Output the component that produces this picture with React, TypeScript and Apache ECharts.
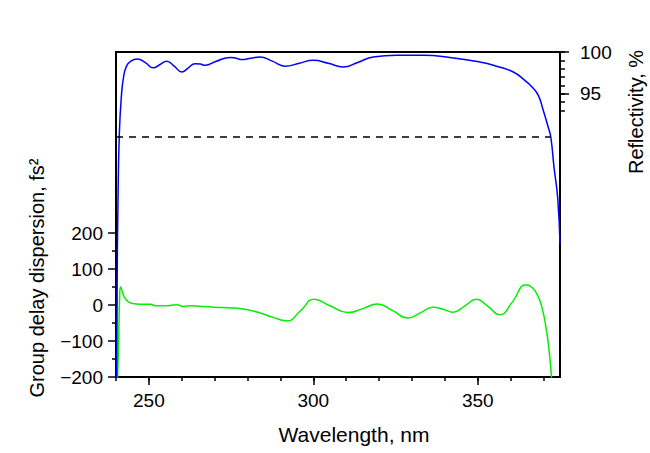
import React, { useEffect, useRef } from "react";
import * as echarts from "echarts";

// Reflectivity (%) vs wavelength (nm)
const reflWavelength = [
  240.0, 240.35, 240.6, 241.0, 241.6, 242.3, 243.2, 244.5, 246.5, 249.0, 251.3, 253.4,
  255.4, 257.7, 260.0, 262.0, 264.0, 265.6, 267.1, 270.5, 274.7, 276.5, 278.2, 281.0, 283.8, 287.5, 291.4, 295.7,
  300.0, 304.5, 309.1, 313.5, 318.2, 325.3, 333.4, 341.5, 350.6, 355.7, 360.8, 364.3, 366.5, 368.4,
  369.9, 371.4, 372.2, 373.2, 374.3, 375.0,
];
const reflValues = [
  40, 72, 82, 90, 94.5, 97.0, 98.3, 98.9, 99.15, 98.7, 98.1, 98.5,
  98.9, 98.3, 97.6, 98.1, 98.6, 98.55, 98.4, 98.9, 99.35, 99.25, 99.1, 99.25, 99.4, 98.9, 98.3, 98.65,
  99.0, 98.65, 98.2, 98.75, 99.4, 99.6, 99.6, 99.35, 98.8, 98.3, 97.6, 96.6, 95.8, 94.8,
  93.0, 91.0, 89.8, 86.1, 82.5, 77.0,
];

// Group delay dispersion (fs^2) vs wavelength (nm)
const gddWavelength = [
  240.3, 240.8, 241.1, 241.4, 242.0, 242.7, 243.7, 245.0, 247.5, 250.5, 252.0, 255.0, 258.5,
  260.5, 263.0, 266.0, 270.0, 275.6, 280.0, 283.8, 288.0, 292.0, 296.1, 300.2,
  305.0, 310.5, 315.0, 319.5, 324.0, 328.8, 332.5, 336.4, 339.5, 342.5, 346.0, 349.6,
  353.0, 356.7, 360.5, 364.6, 366.6, 368.3, 369.6, 370.7, 371.6, 372.4, 372.8,
];
const gddValues = [
  -260, -100, 20, 50, 35, 19, 9, 4, 2, 2, -2, -2, 1,
  -4, -2, -4, -6, -8, -13, -22, -35, -44, -16, 16,
  -2, -21, -10, 3, -15, -36, -22, -6, -12, -20, -3, 16,
  -3, -27, 8, 56, 48, 25, -10, -60, -120, -198, -250,
];

const thresholdRefl = 89.8;
const thresholdEnd = 372.2;
const xMajorTicks = [250, 300, 350];
const rightLabels = [95, 100];

const FONT = "'Liberation Sans', Arial, sans-serif";

export default function App() {
  const ref = useRef<HTMLDivElement>(null);
  useEffect(() => {
    document.body.style.margin = "0";
    if (!ref.current) return;
    const chart = echarts.init(ref.current, undefined, { renderer: "svg" });
    const W = 650;
    const L = 116, R = 90, T = 52, B = 76;
    const plotW = W - L - R;
    const xMin = 240, xMax = 375;
    const pxPerNm = plotW / (xMax - xMin);
    const rMin = 61, rMax = 100;
    const pxPerPct = (453 - T - B) / (rMax - rMin);
    const black = "#000";
    const hiddenAxisBase = {
      axisLine: { show: false, onZero: false },
      axisLabel: { show: false },
      axisTick: { show: false },
      splitLine: { show: false },
    };
    const frameLine = { show: true, onZero: false, lineStyle: { color: black, width: 2 } };
    const option: any = {
      animation: false,
      grid: [
        { left: L, right: R, top: T, bottom: B },
        { left: L, right: R, top: 453 - B - 144, bottom: B },
        { left: L, right: R, top: T, height: 7 * pxPerPct },
        { left: L, right: R, top: T, height: 5 * pxPerPct },
        { left: L + (250 - xMin) * pxPerNm, right: R + (xMax - 350) * pxPerNm, top: T, bottom: B },
        { left: L, right: R + (xMax - 370) * pxPerNm, top: T, bottom: B },
      ],
      xAxis: [
        {
          gridIndex: 0, type: "value", min: xMin, max: xMax, interval: 10, position: "bottom",
          axisLine: frameLine,
          axisTick: { show: false },
          splitLine: { show: false },
          axisLabel: {
            margin: 14, color: black, fontSize: 19, fontFamily: FONT,
            formatter: (v: number) => (xMajorTicks.includes(v) ? String(v) : ""),
            showMinLabel: false, showMaxLabel: false,
          },
        },
        {
          gridIndex: 0, type: "value", min: xMin, max: xMax, position: "top",
          ...hiddenAxisBase,
          axisLine: frameLine,
        },
        { gridIndex: 1, type: "value", min: xMin, max: xMax, show: false },
        { gridIndex: 2, type: "value", min: xMin, max: xMax, show: false },
        { gridIndex: 3, type: "value", min: xMin, max: xMax, show: false },
        {
          gridIndex: 4, type: "value", min: 250, max: 350, interval: 50, position: "bottom",
          ...hiddenAxisBase,
          axisTick: { show: true, length: 8, lineStyle: { color: black, width: 1.5 } },
        },
        {
          gridIndex: 5, type: "value", min: 240, max: 370, interval: 10, position: "bottom",
          ...hiddenAxisBase,
          axisTick: { show: true, length: 4, lineStyle: { color: black, width: 1.5 } },
        },
      ],
      yAxis: [
        {
          gridIndex: 0, type: "value", min: -200, max: 700, position: "left",
          ...hiddenAxisBase,
          axisLine: frameLine,
        },
        {
          gridIndex: 0, type: "value", min: rMin, max: rMax, position: "right",
          ...hiddenAxisBase,
          axisLine: frameLine,
        },
        {
          gridIndex: 1, type: "value", min: -200, max: 200, interval: 100, position: "left",
          axisLine: { show: false, onZero: false },
          splitLine: { show: false },
          axisTick: { show: true, length: 8, lineStyle: { color: black, width: 1.5 } },
          minorTick: { show: true, splitNumber: 2, length: 4, lineStyle: { color: black, width: 1.5 } },
          axisLabel: {
            margin: 13, color: black, fontSize: 19, fontFamily: FONT,
            formatter: (v: number) => (v < 0 ? "\u2212" + Math.abs(v) : String(v)),
          },
        },
        {
          gridIndex: 2, type: "value", min: 93, max: 100, interval: 1, position: "right",
          axisLine: { show: false, onZero: false },
          splitLine: { show: false },
          axisTick: { show: true, length: 5, lineStyle: { color: black, width: 1.5 } },
          axisLabel: {
            margin: 20, color: black, fontSize: 19, fontFamily: FONT,
            formatter: (v: number) => (rightLabels.includes(v) ? String(v) : ""),
          },
        },
        {
          gridIndex: 3, type: "value", min: 95, max: 100, interval: 5, position: "right",
          ...hiddenAxisBase,
          axisTick: { show: true, length: 9, lineStyle: { color: black, width: 1.5 } },
        },
        { gridIndex: 4, type: "value", min: 0, max: 1, show: false },
        { gridIndex: 5, type: "value", min: 0, max: 1, show: false },
      ],
      series: [
        {
          type: "line",
          xAxisIndex: 2, yAxisIndex: 2,
          data: gddWavelength.map((x, i) => [x, gddValues[i]]),
          showSymbol: false, smooth: 0.5,
          lineStyle: { color: "#00f000", width: 1.5 },
          clip: true, z: 3,
        },
        {
          type: "line",
          xAxisIndex: 0, yAxisIndex: 1,
          data: reflWavelength.map((x, i) => [x, reflValues[i]]),
          showSymbol: false, smooth: 0.5,
          lineStyle: { color: "#0000ff", width: 1.5 },
          clip: true, z: 4,
          markLine: {
            silent: true, symbol: ["none", "none"], label: { show: false },
            lineStyle: { color: black, type: [7, 6], width: 1.6 },
            data: [[{ coord: [xMin, thresholdRefl] }, { coord: [thresholdEnd, thresholdRefl] }]],
          },
        },
      ],
      graphic: [
        {
          type: "text", x: 354, y: 434,
          style: { text: "Wavelength, nm", font: `21px ${FONT}`, fill: black, align: "center", verticalAlign: "middle" },
        },
        {
          type: "text", x: 37, y: 278, rotation: Math.PI / 2,
          style: { text: "Group delay dispersion, fs²", font: `20px ${FONT}`, fill: black, align: "center", verticalAlign: "middle" },
        },
        {
          type: "text", x: 636, y: 112, rotation: Math.PI / 2,
          style: { text: "Reflectivity, %", font: `20px ${FONT}`, fill: black, align: "center", verticalAlign: "middle" },
        },
      ],
    };
    chart.setOption(option);
    return () => chart.dispose();
  }, []);
  return <div ref={ref} style={{ width: 650, height: 453 }} />;
}
